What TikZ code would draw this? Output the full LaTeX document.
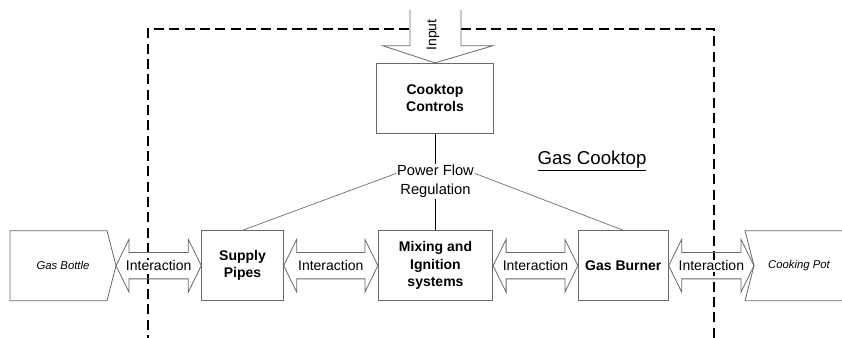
\documentclass[tikz,border=0pt]{standalone}
\usepackage{fontspec}
\setmainfont{Liberation Sans}
\usepackage{tikz}
\usetikzlibrary{calc}
\definecolor{edge}{RGB}{105,105,105}

% double block arrow between two points, with its label
\newcommand{\interaction}[3]{%
\draw[arrowline] (#1) -- ++(13,-26.4) -- ++(0,13.2) -- ($(#2)+(-13,-13.2)$) -- ++(0,-13.2) -- (#2) -- ++(-13,26.4) -- ++(0,-13.2) -- ($(#1)+(13,13.2)$) -- ++(0,13.2) -- cycle;
\node[interlabel] (#3) at ($(#1)!0.5!(#2)$) {Interaction};}

\begin{document}
\begin{tikzpicture}[x=0.75pt,y=0.75pt,yscale=-1,xscale=1,
  block/.style={draw=edge, line width=0.6pt, align=center, inner sep=0.75pt, font=\fontsize{10.5}{13}\selectfont\bfseries},
  outside/.style={inner sep=0.75pt, font=\fontsize{8.5}{10}\selectfont\itshape},
  interlabel/.style={fill=white, inner sep=0.75pt, font=\fontsize{10.5}{12}\selectfont},
  arrowline/.style={draw=edge, line width=0.6pt},
  fence/.style={line width=1.5pt, dash pattern=on 7.5pt off 4pt},
  link/.style={draw=edge, line width=0.5pt}]
\useasboundingbox (0,0) rectangle (842,338);

%Dashed system border
\draw[fence] (148,345) -- (148,29) -- (714,29) -- (714,345);

%Blocks
\node[block, minimum width=87.75pt, minimum height=52.5pt] (ctrl) at (435,98.3) {Cooktop\\Controls};
\node[block, minimum width=61.2pt, minimum height=52.5pt] (pipes) at (242.5,265.7) {Supply\\Pipes};
\node[block, minimum width=85.8pt, minimum height=52.5pt] (mix) at (435.5,265.7) {Mixing and\\Ignition\\systems};
\node[block, minimum width=67.5pt, minimum height=52.5pt] (burner) at (623.3,265.7) {Gas Burner};

%Outside elements
\coordinate (bottletip) at (116,265.7);
\draw[link, line width=0.6pt] (10,230.7) -- (107,230.7) -- (bottletip) -- (107,300.7) -- (10,300.7) -- cycle;
\node[outside] (bottle) at (63,265.7) {Gas Bottle};
\coordinate (pottip) at (754,265.7);
\draw[link, line width=0.6pt] (850,230.7) -- (745,230.7) -- (pottip) -- (745,300.7) -- (850,300.7);
\node[outside] (pot) at (799,265.7) {Cooking Pot};

%Input arrow
\fill[white] (410,10) -- (410,45.7) -- (382.7,45.7) -- (ctrl.north) -- (493,45.7) -- (461,45.7) -- (461,10) -- cycle;
\draw[arrowline] (410,10) -- (410,45.7) -- (382.7,45.7) -- (ctrl.north) -- (493,45.7) -- (461,45.7) -- (461,10);
\node[rotate=90, inner sep=0.75pt, font=\fontsize{10.5}{12}\selectfont] (input) at (433,35) {Input};

%Power flow regulation
\node[align=center, inner sep=0.75pt, font=\fontsize{11}{14.25}\selectfont] (flow) at (435.5,181.5) {Power Flow\\Regulation};
\node[inner sep=0.75pt, font=\fontsize{14}{16}\selectfont] (title) at (592,160.7) {\underline{Gas Cooktop}};
\draw[line width=0.75pt] (ctrl.south) -- (ctrl.south |- flow.north);
\draw[line width=0.75pt] (flow.south) -- (mix.north);
\draw[link] ([yshift=-6pt]flow.west) -- (pipes.north);
\draw[link] ([yshift=-6pt]flow.east) -- (burner.north);

%Interactions
\interaction{bottletip}{pipes.west}{int1}
\interaction{pipes.east}{mix.west}{int2}
\interaction{mix.east}{burner.west}{int3}
\interaction{burner.east}{pottip}{int4}

\end{tikzpicture}
\end{document}
